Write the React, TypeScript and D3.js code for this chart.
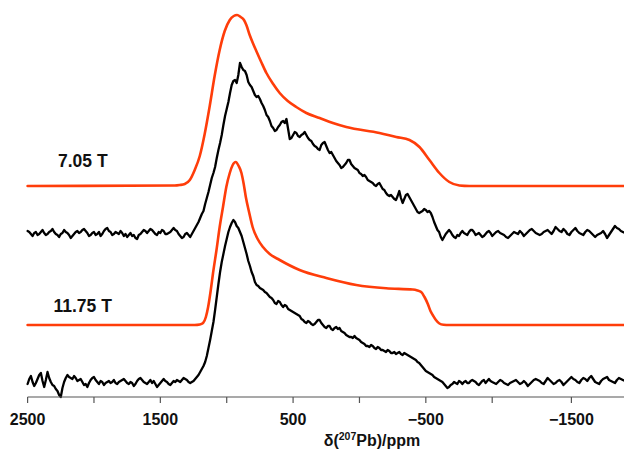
import React from "react";
import * as d3 from "d3";

// ---- data ----
// x axis: chemical shift delta(207Pb) / ppm
const majorTicks = [2500, 1500, 500, -500, -1500];
const minorTicks = [2000, 1000, 0, -1000];
const tickLabels = ["2500", "1500", "500", "\u2212500", "\u22121500"];

// experimental spectra sampled every 12.5 ppm starting at 2500 ppm
const expStartPpm = 2500;
const expStepPpm = -12.5;

const exp705 = [
  2, 1, -1, -3, 0, 1, -2, -1, 1, 3, 0, -2, -1, 1, 2, 4, 1, -1, -2, -4,
  -1, 0, 3, 1, 0, -2, -5, -3, -1, 1, 2, 0, 1, 3, 4, 2, 0, -3, -2, 0,
  1, -2, -1, 1, -3, -1, 2, 4, 5, 2, 1, -2, -1, 1, 0, -1, 2, 0, -3, -1,
  -4, -2, 0, -3, -2, -5, -6, -2, -1, 1, 3, 2, 0, 2, 4, 3, 1, -1, -2, 1,
  0, 3, 2, -1, -1, 0, 1, 3, 5, 3, 2, -1, -3, -5, -4, -1, 0, -2,
  -4, -1, 2, 5, 8, 11, 15, 19, 22, 29, 35, 41, 48, 55, 60, 66, 75, 83, 90, 98,
  108, 117, 124, 131, 140, 148, 152, 153, 150, 158, 170, 166, 163, 162, 158, 151, 148, 146, 142, 138,
  136, 137, 134, 130, 127, 123, 118, 116, 112, 107, 105, 102, 103, 106, 108, 111, 112, 110, 114, 104,
  94, 95, 98, 101, 100, 97, 96, 98, 99, 101, 98, 95, 93, 92, 89, 87, 86, 84, 83, 88,
  90, 91, 87, 83, 80, 81, 78, 75, 72, 70, 68, 65, 66, 68, 70, 73, 73, 69, 67, 65,
  64, 63, 60, 59, 57, 58, 56, 53, 52, 51, 50, 48, 47, 49, 50, 47, 44, 43, 40, 38,
  37, 38, 36, 34, 33, 37, 42, 35, 30, 34, 38, 39, 36, 33, 30, 27, 24, 21, 20, 21,
  22, 24, 23, 21, 22, 20, 16, 11, 7, 3, 1, -4, -7, -4, -1, 1, 3, 1, -2, -4,
  -5, -2, -3, 0,
  2, 0, -1, -2, 1, 3, 3, 1, -2, -1, 0, -2, -4, -3, -1, 1, 2, 0, -3, -1,
  1, 2, 0, -1, -2, -4, -5, -3, -1, 1, 0, -1, 2, 0, -3, -1, 1, 3, 4, 2,
  0, -1, -2, -1, 1, 2, 3, 1, -1, 2, 6, 4, 2, 1, 4, 2, -1, -2, 1, 3,
  5, 2, 0, -1, -2, 1, 3, 2, 0, -2, -4, -2, -1, 0, 2, -1, -5, -2, 1, 4,
  7, 5, 4, 2, 1, 0, -1, 0,
];

const exp1175 = [
  -2, 3, 6, 0, -4, -1, 3, 7, 9, 1, -5, 2, 10, 4, 0, -3, -4, -7, -9, -13,
  -15, -6, 0, 4, 7, 5, 4, 3, 6, 4, 1, 2, 3, 0, -3, -2, -5, -1, 2, 4,
  5, 2, 0, -2, 1, 0, -3, -1, 0, 1, -1, 0, 2, -1, -2, 0, 1, 2, 3, 1,
  -1, -2, 0, -1, -4, -2, 1, 3, 4, 2, 0, -1, -2, 0, 2, -1, 1, -2, -5, -3,
  -1, 1, 3, 1, 0, -2, -3, -1, 1, 0, 2, 1, 0, 2, 4, 3, 2, 0, -1, 0,
  1, 3,
  5, 7, 10, 13, 16, 20, 26, 34, 42, 51, 60, 72, 85, 98, 110, 120, 128, 136, 143, 150,
  155, 159, 162, 160, 156, 154, 150, 146, 140, 134, 128, 121, 116, 110, 106, 100, 97, 96, 94, 93,
  92, 90, 89, 87, 85, 84, 82, 79, 78, 81, 80, 77, 75, 77, 76, 73, 72, 71, 70, 69,
  68, 67, 66, 63, 62, 60, 59, 61, 60, 58, 57, 58, 60, 62, 62, 59, 57, 55, 54, 56,
  56, 53, 52, 54, 55, 53, 54, 51, 50, 49, 47, 46, 45, 45, 44, 46, 44, 43, 42, 40,
  39, 38, 36, 36, 35, 37, 36, 34, 33, 35, 34, 32, 32, 31, 30, 32, 31, 29, 29, 30,
  28, 29, 30, 28, 27, 29, 28, 27, 26, 25, 24, 23, 22, 20, 19, 17, 15, 13, 11, 10,
  9, 8, 7, 5, 4, 3, 2, 1, 0, -2, -4, -6, -5, -3, -2, 0, -1, -2, 1, 0,
  -2, 0, 1, -1, -1, 1, 2, 1, 0, -2, -3, -1, 1, 2, -1, 1, 3, 1, 0, -1,
  -2, 0, 2, 1, -1, -2, -3, -1, 0, 1, 2, 0, -2, -1, 1, -1, -4, -2, 0, 2,
  3, 2, 1, -1, -2, 1, 4, 2, 0, -2, -1, 1, 2, 0, -3, -1, 1, 3, 5, 3,
  2, 0, -1, 2, 4, 3, 1, 4, 6, 3, 0, -1, -2, 1, 3, 4, 5, 2, 1, 0,
  -1, 2, 4, 3, 2, 1, 0, 1,
];

// simulated spectra: [ppm, intensity]
const sim705: [number, number][] = [
  [2500, 0], [1391, 0.5], [1354, 1], [1316, 2], [1278, 6], [1241, 16], [1203, 30],
  [1166, 52], [1128, 80], [1091, 110], [1053, 136], [1015, 155], [977, 166],
  [947, 170], [922, 171], [895, 169], [870, 166], [852, 161], [827, 151], [800, 142],
  [777, 135], [740, 124], [701, 113], [650, 102], [601, 93], [540, 85], [476, 79],
  [400, 73], [300, 68], [200, 63], [99, 59], [-151, 53], [-277, 49], [-377, 46],
  [-452, 39], [-527, 26], [-602, 13], [-677, 4], [-753, 0.5], [-828, 0], [-1850, 0],
];

const sim1175: [number, number][] = [
  [2500, 0], [1241, 0], [1203, 0.5], [1178, 2], [1157, 8], [1140, 18], [1120, 35],
  [1103, 52], [1077, 75], [1053, 98], [1028, 118], [1003, 138], [977, 152],
  [955, 160], [932, 163], [910, 159], [889, 152], [872, 141], [856, 128],
  [830, 112], [805, 98], [767, 86], [727, 78], [676, 71], [601, 65], [451, 55],
  [250, 47], [24, 40], [-201, 36.7], [-402, 35.5], [-437, 34.5], [-465, 33],
  [-490, 28], [-515, 21], [-535, 14], [-552, 10], [-576, 5], [-602, 1.5],
  [-633, 0.3], [-677, 0], [-1850, 0],
];

const fieldLabels = ["7.05 T", "11.75 T"];

// ---- layout ----
const W = 624;
const H = 450;
const AXIS_Y = 397;
const RED = "#ff3d0a";

const x = d3.scaleLinear().domain([2500, -1000, -1500]).range([27.6, 492.2, 571.4]);
const y = d3.scaleLinear().domain([0, 100]).range([AXIS_Y, AXIS_Y - 100]);

const OFF_B1175 = 15;
const OFF_R1175 = 72;
const OFF_B705 = 164;
const OFF_R705 = 211;

function expPoints(vals: number[], off: number): [number, number][] {
  return vals.map((v, i) => [expStartPpm + expStepPpm * i, v + off]);
}
function simPoints(pts: [number, number][], off: number): [number, number][] {
  return pts.map(([p, v]) => [p, v + off]);
}

const lineLin = d3
  .line<[number, number]>()
  .x((d) => x(d[0]))
  .y((d) => y(d[1]));
const lineSmooth = d3
  .line<[number, number]>()
  .x((d) => x(d[0]))
  .y((d) => y(d[1]))
  .curve(d3.curveMonotoneX);

const FONT = "'Liberation Sans', Arial, Helvetica, sans-serif";

export default function App() {
  const allTicks = [...majorTicks, ...minorTicks];
  return (
    <svg
      width={W}
      height={H}
      style={{ position: "absolute", left: 0, top: 0, background: "#fff" }}
      fontFamily={FONT}
    >
      <rect x={0} y={0} width={W} height={H} fill="#fff" />
      <defs>
        <clipPath id="plot">
          <rect x={0} y={0} width={W} height={AXIS_Y + 2} />
        </clipPath>
      </defs>
      <g clipPath="url(#plot)" fill="none" strokeLinejoin="round" strokeLinecap="round">
        <path d={lineSmooth(simPoints(sim705, OFF_R705)) || ""} stroke={RED} strokeWidth={2.6} />
        <path d={lineSmooth(simPoints(sim1175, OFF_R1175)) || ""} stroke={RED} strokeWidth={2.6} />
        <path d={lineLin(expPoints(exp705, OFF_B705)) || ""} stroke="#000" strokeWidth={2.3} />
        <path d={lineLin(expPoints(exp1175, OFF_B1175)) || ""} stroke="#000" strokeWidth={2.3} />
      </g>

      {/* axis */}
      <line x1={x(2500)} x2={W} y1={AXIS_Y} y2={AXIS_Y} stroke="#555" strokeWidth={1.2} />
      {allTicks.map((t) => (
        <line key={t} x1={x(t)} x2={x(t)} y1={AXIS_Y} y2={AXIS_Y + 6} stroke="#555" strokeWidth={1.2} />
      ))}
      {majorTicks.map((t, i) => (
        <text key={t} x={x(t)} y={425} textAnchor="middle" fontSize={16} fontWeight="bold" fill="#111">
          {tickLabels[i]}
        </text>
      ))}
      <text x={372} y={446} textAnchor="middle" fontSize={16} fontWeight="bold" fill="#111">
        δ(<tspan fontSize={10.5} dy={-6}>207</tspan>
        <tspan dy={6}>Pb)/ppm</tspan>
      </text>

      {/* field labels */}
      <text x={58} y={166.5} fontSize={17.5} fontWeight="bold" fill="#111">
        {fieldLabels[0]}
      </text>
      <text x={53.5} y={311.5} fontSize={17.5} fontWeight="bold" fill="#111">
        {fieldLabels[1]}
      </text>
    </svg>
  );
}
